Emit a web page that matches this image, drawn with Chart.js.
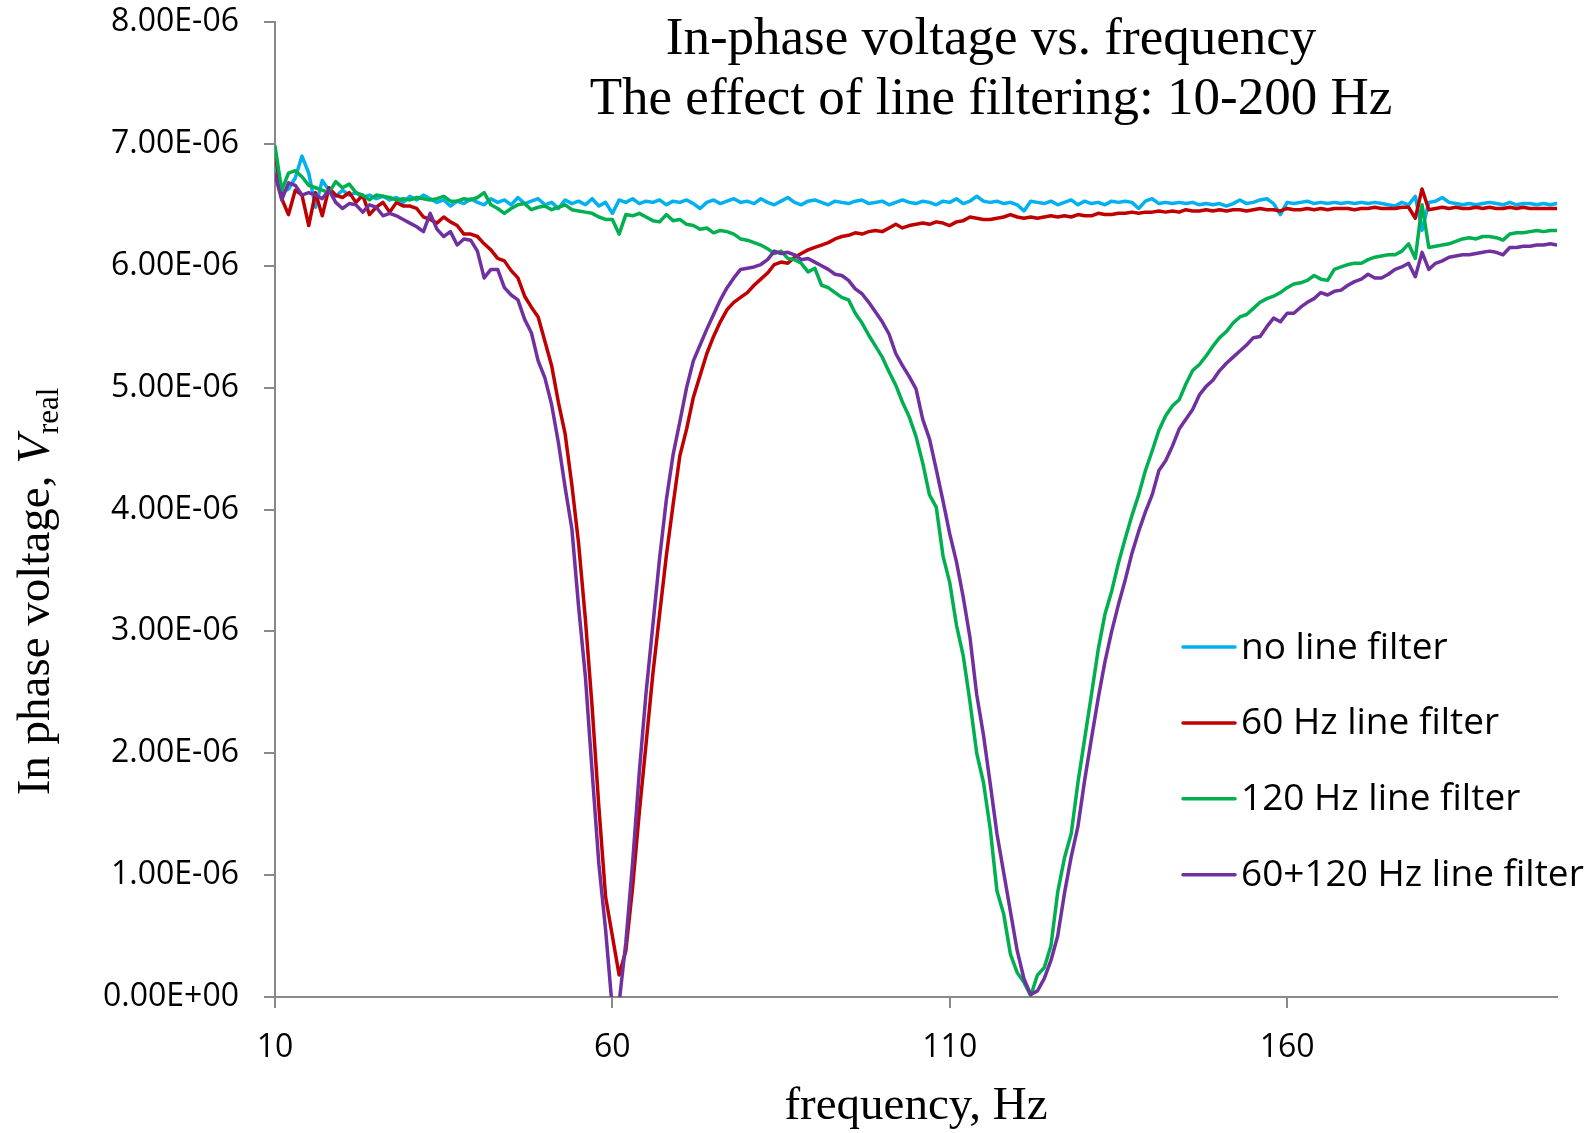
<!DOCTYPE html>
<html><head><meta charset="utf-8">
<script src="https://cdn.jsdelivr.net/npm/chart.js@4.4.1/dist/chart.umd.min.js"></script>
<style>html,body{margin:0;padding:0;background:#fff;} canvas{display:block;}</style>
</head><body>
<canvas id="c" width="1595" height="1133"></canvas>
<script>
// ---- data (frequency in Hz, voltage in microvolts) ----
const freqHz = [
 10,11,12,13,14,15,16,17,18,19, 20,21,22,23,24,25,26,27,28,29,
 30,31,32,33,34,35,36,37,38,39, 40,41,42,43,44,45,46,47,48,49,
 50,51,52,53,54,55,56,57,58,59, 60,61,62,63,64,65,66,67,68,69,
 70,71,72,73,74,75,76,77,78,79, 80,81,82,83,84,85,86,87,88,89,
 90,91,92,93,94,95,96,97,98,99, 100,101,102,103,104,105,106,107,108,109,
 110,111,112,113,114,115,116,117,118,119, 120,121,122,123,124,125,126,127,128,129,
 130,131,132,133,134,135,136,137,138,139, 140,141,142,143,144,145,146,147,148,149,
 150,151,152,153,154,155,156,157,158,159, 160,161,162,163,164,165,166,167,168,169,
 170,171,172,173,174,175,176,177,178,179, 180,181,182,183,184,185,186,187,188,189,
 190,191,192,193,194,195,196,197,198,199, 200
];
const noFilter_uV = [
 6.82,6.60,6.63,6.72,6.90,6.76,6.48,6.70,6.62,6.57,
 6.62,6.58,6.60,6.56,6.58,6.55,6.57,6.54,6.56,6.52,
 6.57,6.54,6.58,6.55,6.52,6.54,6.49,6.53,6.51,6.55,
 6.52,6.50,6.55,6.52,6.54,6.50,6.56,6.51,6.53,6.55,
 6.50,6.52,6.47,6.54,6.51,6.53,6.50,6.55,6.49,6.52,
 6.43,6.54,6.52,6.55,6.51,6.53,6.52,6.54,6.50,6.53,
 6.52,6.54,6.51,6.47,6.52,6.54,6.51,6.53,6.55,6.52,
 6.53,6.51,6.55,6.52,6.50,6.53,6.56,6.52,6.50,6.53,
 6.54,6.52,6.50,6.53,6.52,6.51,6.53,6.54,6.51,6.52,
 6.53,6.50,6.52,6.54,6.52,6.51,6.53,6.52,6.50,6.53,
 6.52,6.55,6.51,6.53,6.57,6.53,6.52,6.53,6.51,6.52,
 6.50,6.45,6.53,6.52,6.51,6.53,6.50,6.52,6.54,6.50,
 6.53,6.51,6.52,6.50,6.53,6.52,6.53,6.52,6.47,6.53,
 6.55,6.51,6.52,6.51,6.52,6.51,6.52,6.50,6.51,6.50,
 6.51,6.49,6.51,6.54,6.51,6.52,6.54,6.55,6.51,6.42,
 6.52,6.51,6.52,6.53,6.51,6.52,6.51,6.52,6.51,6.52,
 6.51,6.52,6.51,6.52,6.51,6.50,6.49,6.52,6.50,6.57,
 6.29,6.52,6.53,6.56,6.52,6.51,6.50,6.51,6.50,6.51,
 6.52,6.51,6.50,6.52,6.50,6.51,6.51,6.50,6.51,6.50,
 6.51
];
const filter60_uV = [
 6.95,6.55,6.42,6.62,6.58,6.33,6.60,6.41,6.64,6.58,
 6.56,6.60,6.52,6.58,6.42,6.48,6.52,6.44,6.52,6.49,
 6.49,6.47,6.40,6.38,6.35,6.40,6.36,6.33,6.26,6.26,
 6.24,6.18,6.13,6.06,6.04,5.96,5.90,5.75,5.66,5.58,
 5.38,5.18,4.88,4.62,4.20,3.72,3.10,2.38,1.56,0.82,
 0.50,0.18,0.38,0.90,1.52,2.08,2.65,3.14,3.62,4.04,
 4.44,4.66,4.92,5.10,5.28,5.42,5.54,5.64,5.70,5.74,
 5.78,5.84,5.89,5.94,6.01,6.03,6.02,6.07,6.10,6.13,
 6.15,6.17,6.19,6.22,6.24,6.25,6.27,6.26,6.28,6.29,
 6.28,6.31,6.34,6.31,6.33,6.34,6.35,6.34,6.36,6.35,
 6.33,6.36,6.37,6.40,6.39,6.38,6.38,6.39,6.40,6.42,
 6.40,6.39,6.40,6.39,6.40,6.41,6.40,6.41,6.40,6.42,
 6.41,6.41,6.43,6.42,6.42,6.43,6.43,6.44,6.43,6.44,
 6.44,6.45,6.44,6.45,6.44,6.46,6.45,6.45,6.46,6.45,
 6.46,6.45,6.46,6.46,6.45,6.46,6.47,6.46,6.46,6.45,
 6.47,6.46,6.46,6.47,6.46,6.47,6.46,6.47,6.47,6.47,
 6.46,6.47,6.47,6.48,6.47,6.47,6.47,6.48,6.48,6.39,
 6.63,6.46,6.47,6.48,6.47,6.48,6.47,6.47,6.48,6.47,
 6.48,6.47,6.47,6.48,6.47,6.48,6.47,6.47,6.47,6.47,
 6.47
];
const filter120_uV = [
 6.98,6.62,6.76,6.78,6.73,6.66,6.64,6.62,6.60,6.69,
 6.64,6.67,6.60,6.58,6.54,6.58,6.57,6.56,6.54,6.55,
 6.54,6.56,6.55,6.54,6.55,6.57,6.53,6.53,6.55,6.54,
 6.56,6.60,6.50,6.47,6.43,6.47,6.50,6.51,6.46,6.48,
 6.49,6.46,6.48,6.50,6.46,6.45,6.44,6.43,6.40,6.38,
 6.38,6.26,6.42,6.41,6.43,6.40,6.37,6.36,6.42,6.37,
 6.38,6.34,6.33,6.30,6.31,6.27,6.29,6.28,6.26,6.22,
 6.21,6.19,6.17,6.14,6.10,6.12,6.06,6.05,6.02,5.95,
 5.98,5.84,5.82,5.78,5.74,5.72,5.61,5.53,5.43,5.34,
 5.25,5.13,5.02,4.88,4.76,4.60,4.38,4.12,4.02,3.62,
 3.40,3.05,2.80,2.42,2.00,1.76,1.38,0.87,0.68,0.35,
 0.20,0.12,0.01,0.18,0.24,0.42,0.86,1.14,1.34,1.76,
 2.12,2.48,2.85,3.14,3.33,3.56,3.76,3.95,4.12,4.32,
 4.48,4.65,4.77,4.85,4.90,5.03,5.14,5.19,5.26,5.34,
 5.41,5.46,5.53,5.58,5.60,5.65,5.70,5.73,5.75,5.78,
 5.82,5.85,5.86,5.88,5.92,5.89,5.88,5.97,5.99,6.01,
 6.02,6.02,6.05,6.07,6.08,6.09,6.09,6.12,6.18,6.06,
 6.50,6.15,6.16,6.17,6.18,6.20,6.22,6.23,6.22,6.24,
 6.24,6.23,6.21,6.26,6.27,6.27,6.28,6.29,6.28,6.29,
 6.29
];
const filter60and120_uV = [
 6.75,6.54,6.68,6.66,6.58,6.60,6.58,6.55,6.62,6.52,
 6.47,6.51,6.50,6.44,6.50,6.48,6.41,6.43,6.41,6.38,
 6.35,6.32,6.28,6.43,6.30,6.24,6.28,6.17,6.22,6.21,
 6.12,5.90,5.97,5.97,5.82,5.76,5.72,5.56,5.45,5.22,
 5.08,4.86,4.55,4.18,3.84,3.20,2.63,1.85,1.09,0.55,
 -0.10,-0.05,0.45,1.10,1.85,2.50,3.05,3.60,4.08,4.45,
 4.72,5.00,5.22,5.35,5.48,5.60,5.72,5.82,5.90,5.97,
 5.98,5.99,6.01,6.05,6.12,6.10,6.11,6.09,6.05,6.06,
 6.03,6.00,5.97,5.93,5.92,5.88,5.81,5.77,5.70,5.62,
 5.54,5.44,5.28,5.18,5.09,4.99,4.74,4.58,4.33,4.07,
 3.80,3.57,3.28,2.95,2.48,2.15,1.75,1.34,1.02,0.70,
 0.38,0.15,0.02,0.05,0.15,0.30,0.50,0.85,1.15,1.40,
 1.78,2.12,2.45,2.75,3.00,3.22,3.42,3.64,3.82,3.98,
 4.12,4.32,4.40,4.52,4.66,4.74,4.82,4.94,5.01,5.06,
 5.14,5.20,5.25,5.30,5.35,5.41,5.42,5.50,5.57,5.54,
 5.61,5.61,5.66,5.70,5.73,5.78,5.76,5.79,5.80,5.84,
 5.87,5.89,5.93,5.90,5.90,5.93,5.97,5.99,6.02,5.91,
 6.11,5.97,6.02,6.04,6.07,6.08,6.09,6.09,6.10,6.11,
 6.12,6.11,6.09,6.15,6.15,6.16,6.16,6.17,6.17,6.18,
 6.17
];
const xTickValues = [10, 60, 110, 160];
const seriesLabels = ['no line filter', '60 Hz line filter', '120 Hz line filter', '60+120 Hz line filter'];
const titleLines = ['In-phase voltage vs. frequency', 'The effect of line filtering: 10-200 Hz'];
const xTitleText = 'frequency, Hz';
const yTitleParts = ['In phase voltage, ', 'V', 'real'];

// ---- styles ----
const seriesColors = ['#00B0F0', '#C00000', '#00B050', '#7030A0'];
const SANS = '"Open Sans", "Noto Sans", sans-serif';
const SERIF = '"Liberation Serif", "DejaVu Serif", serif';
const AXIS_COLOR = '#898989';

function fmtE(v) { // v in microvolts -> Excel style 0.00E+00
  const val = v * 1e-6;
  if (Math.abs(val) < 1e-15) return '0.00E+00';
  let e = Math.floor(Math.log10(Math.abs(val)) + 1e-9);
  let ms = (val / Math.pow(10, e)).toFixed(2);
  if (Math.abs(parseFloat(ms)) >= 10) { e += 1; ms = (val / Math.pow(10, e)).toFixed(2); }
  const ea = Math.abs(e);
  return ms + 'E' + (e < 0 ? '-' : '+') + (ea < 10 ? '0' : '') + ea;
}

const seriesData = [noFilter_uV, filter60_uV, filter120_uV, filter60and120_uV];
const datasets = seriesData.map((arr, i) => ({
  label: seriesLabels[i],
  data: arr.map((v, k) => ({ x: freqHz[k], y: v })),
  borderColor: seriesColors[i],
  backgroundColor: seriesColors[i],
  borderWidth: 3.5,
  pointRadius: 0,
  pointHoverRadius: 0,
  tension: 0,
  fill: false,
  borderJoinStyle: 'round',
  borderCapStyle: 'round',
  order: seriesData.length - i
}));

const textPlugin = {
  id: 'textPlugin',
  afterDraw(chart) {
    const ctx = chart.ctx;
    ctx.save();
    ctx.fillStyle = '#000';
    // title
    ctx.font = '53px ' + SERIF;
    ctx.textAlign = 'center';
    ctx.textBaseline = 'alphabetic';
    ctx.fillText(titleLines[0], 991, 54);
    ctx.fillText(titleLines[1], 991, 114);
    // x title
    ctx.font = '47px ' + SERIF;
    ctx.fillText(xTitleText, (chart.chartArea.left + chart.chartArea.right) / 2, 1119);
    // y title (rotated, with italic V and subscript)
    ctx.save();
    ctx.translate(49, 592);
    ctx.rotate(-Math.PI / 2);
    ctx.textAlign = 'left';
    const f1 = '47px ' + SERIF, f2 = 'italic 47px ' + SERIF, f3 = '31px ' + SERIF;
    ctx.font = f1; const w1 = ctx.measureText(yTitleParts[0]).width;
    ctx.font = f2; const w2 = ctx.measureText(yTitleParts[1]).width;
    ctx.font = f3; const w3 = ctx.measureText(yTitleParts[2]).width;
    let sx = -(w1 + w2 + w3) / 2;
    ctx.font = f1; ctx.fillText(yTitleParts[0], sx, 0); sx += w1;
    ctx.font = f2; ctx.fillText(yTitleParts[1], sx, 0); sx += w2 + 1;
    ctx.font = f3; ctx.fillText(yTitleParts[2], sx, 9);
    ctx.restore();
    // legend
    ctx.font = '37px ' + SANS;
    ctx.textAlign = 'left';
    ctx.textBaseline = 'middle';
    chart.data.datasets.forEach((ds, i) => {
      const y = 647 + i * 75.9;
      ctx.strokeStyle = ds.borderColor;
      ctx.lineWidth = 3.5;
      ctx.lineCap = 'round';
      ctx.beginPath();
      ctx.moveTo(1183, y);
      ctx.lineTo(1235, y);
      ctx.stroke();
      ctx.fillStyle = '#000';
      ctx.fillText(ds.label, 1241, y + 1);
    });
    ctx.restore();
  }
};

new Chart(document.getElementById('c'), {
  type: 'line',
  data: { datasets },
  options: {
    responsive: false,
    animation: false,
    devicePixelRatio: 1,
    layout: { padding: { top: 22, right: 38, left: 0, bottom: 0 } },
    plugins: { legend: { display: false }, tooltip: { enabled: false }, title: { display: false } },
    scales: {
      x: {
        type: 'linear', min: 10, max: 200,
        afterBuildTicks: s => { s.ticks = xTickValues.map(v => ({ value: v })); },
        afterFit: s => { s.height = 136; s.paddingLeft = 0; s.paddingRight = 0; },
        grid: { display: true, drawOnChartArea: false, drawTicks: true, tickLength: 11, color: AXIS_COLOR, lineWidth: 2 },
        border: { display: true, color: AXIS_COLOR, width: 2 },
        ticks: { font: { family: SANS, size: 32 }, color: '#000', padding: 21, maxRotation: 0, autoSkip: false }
      },
      y: {
        min: 0, max: 8,
        afterFit: s => { s.width = 275; s.paddingTop = 0; s.paddingBottom = 0; },
        grid: { display: true, drawOnChartArea: false, drawTicks: true, tickLength: 11, color: AXIS_COLOR, lineWidth: 2 },
        border: { display: true, color: AXIS_COLOR, width: 2 },
        ticks: { stepSize: 1, callback: v => fmtE(v), font: { family: SANS, size: 32 }, color: '#000', padding: 25 }
      }
    }
  },
  plugins: [textPlugin]
});
</script>
</body></html>
